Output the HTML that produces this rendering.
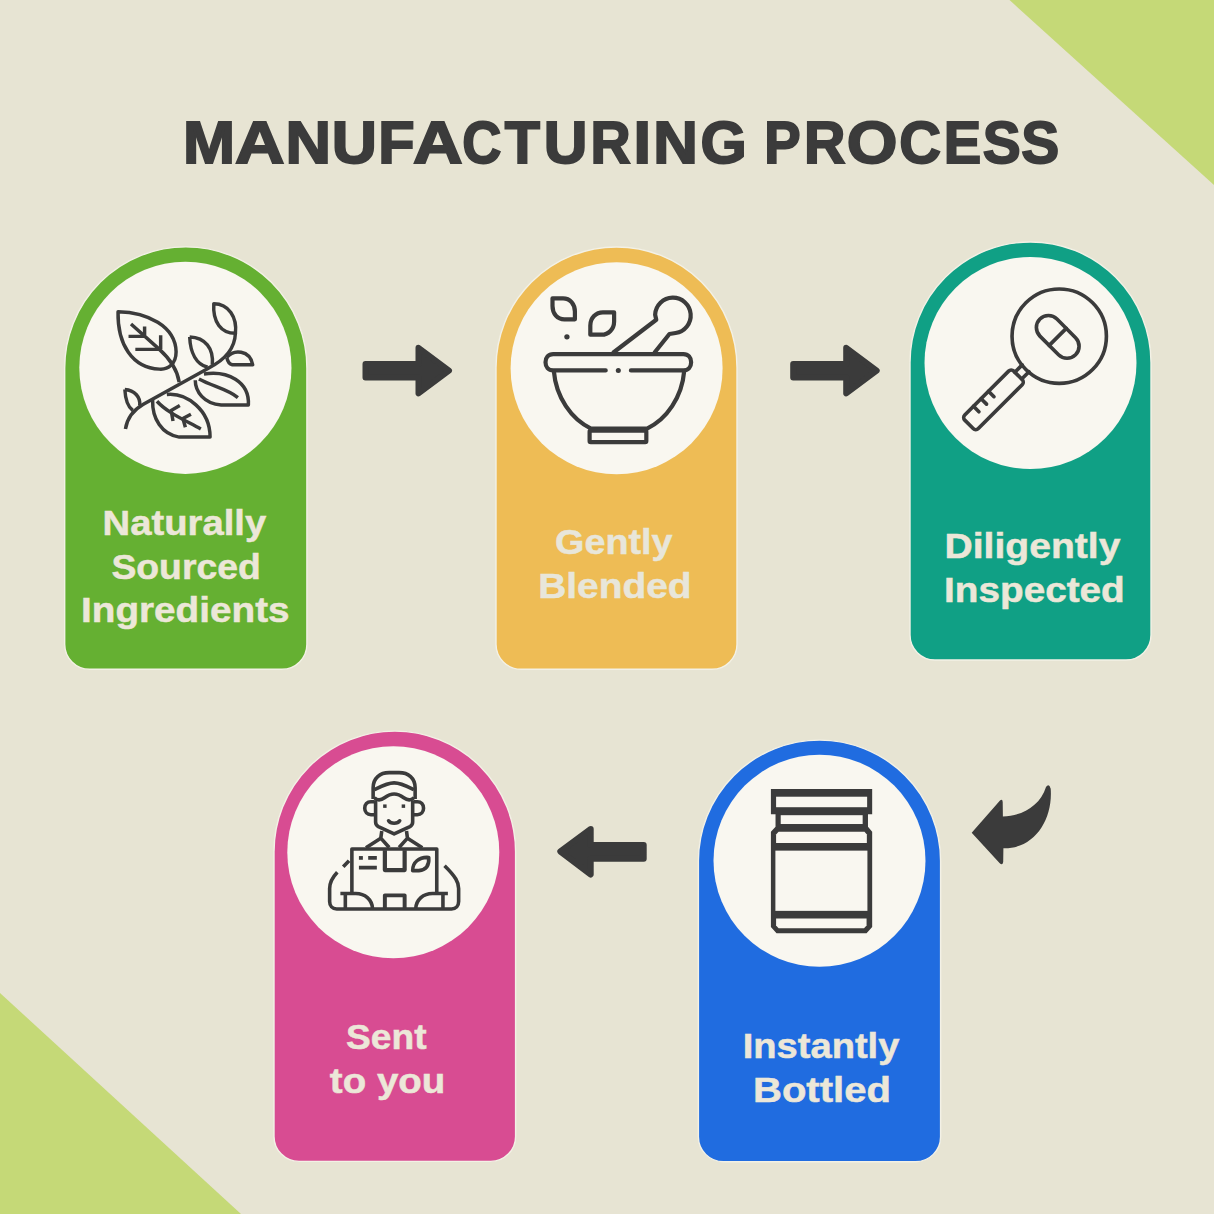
<!DOCTYPE html>
<html><head><meta charset="utf-8">
<style>
html,body{margin:0;padding:0;background:#e7e4d3;}
body{width:1214px;height:1214px;overflow:hidden;position:relative;font-family:"Liberation Sans",sans-serif;}
svg{position:absolute;left:0;top:0;display:block}
text{font-family:"Liberation Sans",sans-serif;font-weight:bold}
.t{fill:#ece7d8}
.ic{fill:none;stroke:#3b3b3b;stroke-linejoin:round}
</style></head><body>
<svg width="1214" height="1214" viewBox="0 0 1214 1214">
<rect width="1214" height="1214" fill="#e7e4d3"/>
<!-- corner triangles -->
<polygon points="1009.5,0 1214,0 1214,185" fill="#c5d977"/>
<polygon points="0,993 0,1214 241,1214" fill="#c5d977"/>

<!-- title -->
<!-- TITLE -->
<g font-size="100" fill="#3b3b3b" stroke="#3b3b3b" stroke-width="3.2" stroke-linejoin="miter">
<text transform="translate(183.02,162.86) scale(0.6250,0.5847)">M</text>
<text transform="translate(234.99,162.86) scale(0.6857,0.5847)">A</text>
<text transform="translate(285.49,162.86) scale(0.6308,0.5847)">N</text>
<text transform="translate(331.64,162.86) scale(0.6255,0.5847)">U</text>
<text transform="translate(378.37,162.86) scale(0.5952,0.5847)">F</text>
<text transform="translate(412.89,162.86) scale(0.6872,0.5847)">A</text>
<text transform="translate(462.25,162.86) scale(0.5410,0.5847)">C</text>
<text transform="translate(504.68,162.86) scale(0.5766,0.5847)">T</text>
<text transform="translate(543.73,162.86) scale(0.6050,0.5847)">U</text>
<text transform="translate(590.47,162.86) scale(0.5564,0.5847)">R</text>
<text transform="translate(633.39,162.86) scale(0.6305,0.5847)">I</text>
<text transform="translate(653.16,162.86) scale(0.6179,0.5847)">N</text>
<text transform="translate(700.51,162.86) scale(0.5942,0.5847)">G</text>
<text transform="translate(764.13,162.86) scale(0.5452,0.5847)">P</text>
<text transform="translate(803.98,162.86) scale(0.5744,0.5847)">R</text>
<text transform="translate(846.87,162.86) scale(0.6522,0.5847)">O</text>
<text transform="translate(899.36,162.86) scale(0.5774,0.5847)">C</text>
<text transform="translate(943.74,162.86) scale(0.5615,0.5847)">E</text>
<text transform="translate(982.87,162.86) scale(0.5688,0.5847)">S</text>
<text transform="translate(1021.17,162.86) scale(0.5688,0.5847)">S</text>
</g>
<!-- /TITLE -->

<!-- cards -->
<g stroke="#f3f1e6" stroke-width="1.4">
<path d="M64.7,368 A121.1,121.1 0 0 1 306.9,368 V644.3 A25,25 0 0 1 281.9,669.3 H89.7 A25,25 0 0 1 64.7,644.3 Z" fill="#65b032"/>
<path d="M496,367.5 A120.5,120.5 0 0 1 737,367.5 V644.3 A25,25 0 0 1 712,669.3 H521 A25,25 0 0 1 496,644.3 Z" fill="#eebc55"/>
<path d="M910,362.5 A120.5,120.5 0 0 1 1151,362.5 V635 A25,25 0 0 1 1126,660 H935 A25,25 0 0 1 910,635 Z" fill="#10a085"/>
<path d="M274,851.8 A120.8,120.8 0 0 1 515.6,851.8 V1136.4 A25,25 0 0 1 490.6,1161.4 H299 A25,25 0 0 1 274,1136.4 Z" fill="#d84c92"/>
<path d="M698.4,861.1 A121.1,121.1 0 0 1 940.6,861.1 V1136.7 A25,25 0 0 1 915.6,1161.7 H723.4 A25,25 0 0 1 698.4,1136.7 Z" fill="#206ce0"/>
</g>
<!-- circles -->
<g fill="#f9f7f0">
<circle cx="185.4" cy="367.8" r="106.1"/>
<circle cx="616.6" cy="368.2" r="106"/>
<circle cx="1030.5" cy="363" r="106"/>
<circle cx="393.3" cy="852.2" r="106"/>
<circle cx="819.5" cy="860.8" r="106"/>
</g>

<!-- arrows -->
<g fill="#3b3b3b" stroke="#3b3b3b" stroke-width="6" stroke-linejoin="round">
<path d="M365.5,364 H418.5 V347.8 L449,370.7 L418.5,393.4 V377.5 H365.5 Z"/>
<path transform="translate(427.7,0)" d="M365.5,364 H418.5 V347.8 L449,370.7 L418.5,393.4 V377.5 H365.5 Z"/>
<path d="M643.7,845 H590.7 V829 L560.3,851.5 L590.7,874.5 V858.7 H643.7 Z"/>
</g>
<path d="M971.7,832.7 L1000,800.4 Q1002.5,798.5 1002.7,802 L1002.9,816.5 C1022,816 1040,806 1046,787 Q1049,783 1050.7,788.8 C1053,820 1034,849 1003.4,848.2 L1003.2,862 Q1002.5,866 999.5,863 Z" fill="#3b3b3b"/>

<!-- text -->
<g class="t" font-size="35.9" stroke="#ece7d8" stroke-width="0.5">
<text transform="translate(102.58,535.10) scale(1.0657,1)">Naturally</text>
<text transform="translate(111.38,579.10) scale(1.0405,1)">Sourced</text>
<text transform="translate(81.05,621.60) scale(1.0778,1)">Ingredients</text>
<text transform="translate(555.08,553.60) scale(1.0519,1)" fill="#e8e6da" stroke="#e8e6da">Gently</text>
<text transform="translate(538.24,597.50) scale(1.0830,1)" fill="#e8e6da" stroke="#e8e6da">Blended</text>
<text transform="translate(944.53,558.10) scale(1.0884,1)">Diligently</text>
<text transform="translate(944.05,601.80) scale(1.0786,1)">Inspected</text>
<text transform="translate(346.08,1049.40) scale(1.0353,1)">Sent</text>
<text transform="translate(329.87,1093.40) scale(1.0729,1)">to you</text>
<text transform="translate(742.68,1058.10) scale(1.0623,1)">Instantly</text>
<text transform="translate(752.97,1101.80) scale(1.1163,1)">Bottled</text>
</g>

<!-- ICON1 -->
<g class="ic" transform="translate(110,295) scale(0.12356)" stroke-width="28" stroke-linecap="butt">
<path d="M125,1085 C140,990 200,925 270,885 L800,590 C920,530 1010,440 1015,310"/>
<path d="M840,70 C960,70 1030,180 1015,310 C900,310 830,220 840,70 Z"/>
<path d="M65,135 C300,140 530,250 535,460 C535,560 470,605 400,600 C180,590 60,400 65,135 Z"/>
<path d="M170,235 L400,440 C500,530 545,610 560,705"/>
<path d="M280,255 V325 M150,335 H290 M410,325 V440 M205,440 H400"/>
<path d="M645,340 C770,345 840,430 828,565 M645,340 C650,470 700,560 790,585"/>
<path d="M945,505 C1000,440 1130,440 1155,565 L990,565 C965,560 950,530 945,505"/>
<path d="M760,640 C950,610 1130,700 1120,890 L900,890 C760,880 690,780 690,690"/>
<path d="M720,680 C830,740 950,760 1035,830"/>
<path d="M460,805 C620,790 810,930 810,1150 L560,1150 C420,1130 340,1000 345,850"/>
<path d="M380,860 C460,950 600,1010 735,1085"/>
<path d="M565,895 L495,935 L510,1020 M655,965 L590,1000 L610,1070"/>
<path d="M120,765 C200,770 250,830 240,895 M120,765 C125,860 150,910 185,935"/>
</g>
<!-- ICON2 -->
<g class="ic" transform="translate(535,285) scale(0.14003)" stroke-width="30" stroke-linecap="round">
<path d="M505,610 L130,610 C95,610 75,585 75,552 C75,519 95,494 130,494 L1060,494 C1095,494 1115,519 1115,552 C1115,585 1095,610 1060,610 L685,610"/>
<path d="M135,618 C150,800 260,960 400,1025 L800,1025 C940,960 1050,800 1065,618"/>
<rect x="390" y="1040" width="405" height="82" rx="8"/>
<path d="M560,482 L866,248 L858,212 A127,127 0 1 1 1004,343 L960,350 L854,482"/>
<path d="M125,95 L200,95 C250,95 285,135 285,190 L285,245 L210,245 C160,245 125,205 125,150 Z"/>
<path d="M565,195 L485,195 C435,195 395,235 395,290 L395,355 L475,355 C525,355 565,315 565,260 Z"/>
<circle cx="228" cy="370" r="19" fill="#3b3b3b" stroke="none"/>
<circle cx="595" cy="610" r="18" fill="#3b3b3b" stroke="none"/>
</g>
<!-- ICON3 -->
<g class="ic" transform="translate(950,275) scale(0.14003) translate(780,437) rotate(45)" stroke-width="26" stroke-linecap="round">
<circle cx="0" cy="0" r="337"/>
<path d="M-42,332 V406 M27,332 V406"/>
<rect x="-79" y="406" width="137" height="495" rx="26"/>
<path d="M-79,635 H-24 M-79,710 H-24 M-79,787 H-24"/>
<rect x="-184" y="-75" width="360" height="172" rx="86"/>
<path d="M-4,-75 V97"/>
</g>
<!-- ICON4 -->
<g class="ic" transform="translate(320,765) scale(0.12356)" stroke-width="29" stroke-linecap="butt">
<path d="M430,275 V185 C430,105 485,62 560,62 H640 C715,62 770,105 770,185 V275"/>
<path d="M440,200 C500,170 545,145 600,145 C655,145 700,170 760,200"/>
<path d="M440,262 C460,292 495,285 522,265 C550,245 575,235 600,235 C625,235 650,245 678,265 C705,285 740,292 760,262"/>
<path d="M450,285 V462 C450,480 456,490 472,498 L600,558 L728,498 C744,490 750,480 750,462 V285"/>
<path d="M440,297 H412 C382,297 362,320 362,350 C362,380 382,402 412,402 H440"/>
<path d="M760,297 H788 C818,297 838,320 838,350 C838,380 818,402 788,402 H760"/>
<path d="M555,452 C572,478 628,478 645,452" stroke-linecap="round"/>
<path d="M500,535 L492,592 L560,668 M700,535 L708,592 L640,668"/>
<path d="M492,592 L372,670 M708,592 L828,670"/>
<path d="M258,1040 V680 H945 V1040"/>
<path d="M525,690 V850 H685 V690" stroke-width="34"/>
<path d="M525,1160 V1055 H685 V1160" stroke-width="32"/>
<path d="M165,1040 H290 C365,1040 420,1090 425,1160 M1035,1040 H910 C835,1040 780,1090 775,1160"/>
<path d="M205,1040 V1160 M995,1040 V1160"/>
<path d="M235,775 L188,824 M140,868 C100,910 78,950 78,1000 V1105 C78,1140 100,1165 135,1165 H1065 C1100,1165 1122,1140 1122,1105 V1000 C1122,950 1100,905 1008,815"/>
<path d="M315,830 H460 M390,752 H460" stroke-width="30"/>
<path d="M880,748 C800,742 748,790 750,855 L800,855 C860,850 885,810 880,748 Z"/>
</g>
<g fill="#3b3b3b" transform="translate(320,765) scale(0.12356)">
<rect x="511" y="319" width="28" height="28"/><rect x="661" y="319" width="28" height="28"/>
<rect x="315" y="737" width="32" height="30"/>
</g>
<!-- ICON5 -->
<g transform="translate(745,775) scale(0.14006)">
<path fill="#3b3b3b" d="M185,100 H908 V280 H878 V370 L908,405 V1085 L868,1130 H225 L185,1085 V405 L218,370 V280 H185 Z"/>
<g fill="#f9f7f0">
<rect x="222" y="155" width="650" height="75"/>
<rect x="255" y="287" width="585" height="63"/>
<polygon points="240,405 853,405 870,425 870,485 222,485 222,425"/>
<rect x="217" y="540" width="657" height="430"/>
<polygon points="222,1025 868,1025 868,1075 850,1095 240,1095 222,1075"/>
</g>
</g>
</svg>
</body></html>
